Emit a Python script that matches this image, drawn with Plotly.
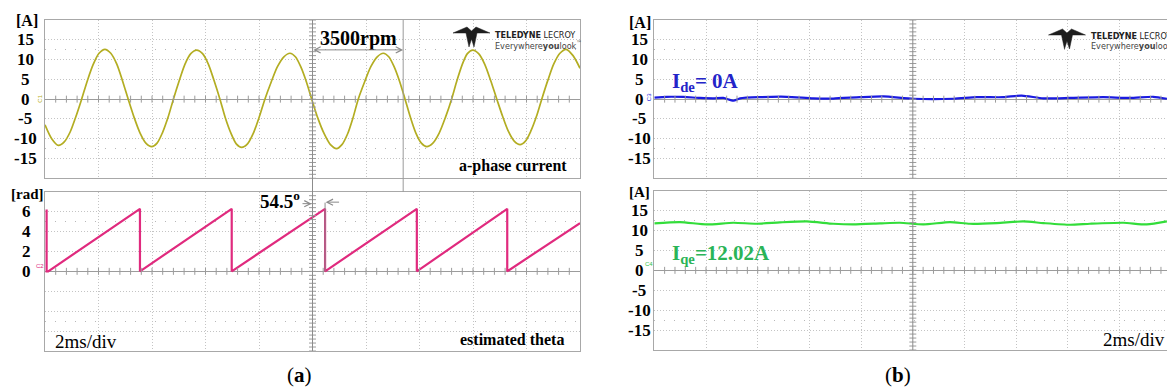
import numpy as np
import plotly.graph_objects as go

# ---------------- data (time in ms, 2 ms/div, 10 divisions) ----------------
# (a) a-phase current [A]
T_IA = [0.00, 0.25, 0.50, 0.72, 0.94, 1.15, 1.37, 1.59, 1.81, 2.02, 2.24,
        2.46, 2.68, 2.89, 3.11, 3.33, 3.55, 3.77, 3.99, 4.19, 4.39, 4.60,
        4.80, 5.02, 5.23, 5.45, 5.67, 5.89, 6.11, 6.32, 6.54, 6.74, 6.95,
        7.15, 7.35, 7.57, 7.79, 8.00, 8.22, 8.46, 8.69, 8.93, 9.16, 9.36,
        9.56, 9.77, 9.97, 10.20, 10.44, 10.67, 10.90, 11.10, 11.31, 11.51,
        11.71, 11.95, 12.18, 12.42, 12.65, 12.85, 13.05, 13.26, 13.46, 13.66,
        13.86, 14.07, 14.27, 14.50, 14.74, 14.97, 15.20, 15.40, 15.60, 15.79,
        15.99, 16.21, 16.44, 16.66, 16.89, 17.11, 17.32, 17.54, 17.76, 17.96,
        18.16, 18.37, 18.57, 18.80, 19.02, 19.25, 19.48, 19.74, 20.00]
IA = [-6.5, -10.0, -11.7, -10.8, -8.3, -4.5, 0.0, 4.8, 8.9, 11.6, 12.6,
      11.6, 8.9, 4.8, 0.0, -4.6, -8.5, -11.1, -12.0, -11.1, -8.5, -4.6,
      0.0, 4.7, 8.8, 11.5, 12.4, 11.5, 8.8, 4.7, 0.0, -4.7, -8.6,
      -11.3, -12.2, -11.3, -8.6, -4.7, 0.0, 4.4, 8.2, 10.7, 11.6, 10.7,
      8.2, 4.4, 0.0, -4.8, -8.8, -11.5, -12.5, -11.5, -8.8, -4.8,
      0.0, 4.4, 8.2, 10.7, 11.6, 10.7, 8.2, 4.4, 0.0, -4.6,
      -8.5, -11.1, -12.0, -11.1, -8.5, -4.6, 0.0, 4.7, 8.8, 11.5,
      12.4, 11.5, 8.8, 4.7, 0.0, -4.4, -8.1, -10.6, -11.5, -10.6,
      -8.1, -4.4, 0.0, 4.8, 8.9, 11.6, 12.6, 11.0, 7.8]

# (a) estimated theta [rad]
T_TH = [0.06, 0.06, 0.12, 3.55, 3.55, 6.98, 6.98, 10.47, 10.47, 13.90, 13.90,
        17.28, 17.28, 20.00]
THETA = [6.20, 0.00, 0.00, 6.28, 0.00, 6.28, 0.00, 6.28, 0.00, 6.28, 0.00,
         6.28, 0.00, 4.85]

# (b) d-axis current [A]
T_ID = [0.00, 0.48, 1.12, 1.77, 2.28, 2.67, 3.06, 3.32, 4.09, 5.12, 6.15, 6.92,
        7.96, 8.86, 10.02, 11.57, 12.47, 13.50, 14.21, 15.05, 16.08, 17.37,
        18.40, 19.30, 19.83]
ID = [0.4, 0.6, 0.55, 0.3, 0.2, 0.3, -0.4, 0.2, 0.5, 0.6, 0.2, 0.15,
      0.5, 0.7, 0.1, 0.1, 0.5, 0.5, 0.9, 0.2, 0.3, 0.5,
      0.3, 0.6, 0.1]

# (b) q-axis current [A]
T_IQ = [0.00, 0.99, 2.03, 3.06, 3.96, 4.86, 5.90, 6.92, 7.70, 8.73, 9.50,
        10.41, 11.44, 12.21, 13.25, 14.27, 15.05, 16.08, 16.85, 18.14, 19.05,
        19.83]
IQ = [11.78, 12.12, 11.53, 11.95, 11.70, 12.04, 12.29, 11.70, 11.53, 11.78,
      11.95, 11.53, 12.12, 11.70, 11.87, 12.29, 11.87, 11.45, 11.70, 11.95,
      11.53, 12.29]

YTICKS_A = [15, 10, 5, 0, -5, -10, -15]
YTICKS_RAD = [6, 4, 2, 0]

# ---------------- style ----------------
W, H = 1167, 390
SERIF = "Liberation Serif, Times New Roman, serif"
SANS = "Liberation Sans, Arial, sans-serif"
NARROW = "Liberation Sans Narrow, DejaVu Sans Condensed, Liberation Sans, sans-serif"
GRID = "#c4c4c4"
FRAME = "#a8a8a8"
CENTER = "#9c9c9c"
C_IA = "#b3ad22"
C_TH = "#e02a7e"
C_ID = "#1a1ae0"
C_IQ = "#33dd3a"


def px(xp):
    return xp / W


def py(yp):
    return 1 - yp / H


XA = [px(45), px(580)]
XB = [px(654.3), 1.0]
B_RANGE = [0, (W - 654.3) / 25.85]

fig = go.Figure()

fig.add_trace(go.Scatter(x=T_IA, y=IA, mode="lines", xaxis="x", yaxis="y",
                         line=dict(color=C_IA, width=1.7, shape="spline", smoothing=0.8)))
fig.add_trace(go.Scatter(x=T_TH, y=THETA, mode="lines", xaxis="x2", yaxis="y2",
                         line=dict(color=C_TH, width=2.2)))
fig.add_trace(go.Scatter(x=T_ID, y=ID, mode="lines", xaxis="x3", yaxis="y3",
                         line=dict(color=C_ID, width=2.2, shape="spline", smoothing=0.6)))
fig.add_trace(go.Scatter(x=T_IQ, y=IQ, mode="lines", xaxis="x4", yaxis="y4",
                         line=dict(color=C_IQ, width=2.2, shape="spline", smoothing=0.6)))

# graticule ticks along the centre lines (1/5 division)
panels = [("x", "y", 20.0, 5.0), ("x2", "y2", 20.0, 2.0),
          ("x3", "y3", B_RANGE[1], 5.0), ("x4", "y4", B_RANGE[1], 5.0)]
for xa, ya, xmax, ydiv in panels:
    hx = np.arange(0.4, xmax, 0.4)
    fig.add_trace(go.Scatter(x=hx, y=np.zeros_like(hx), mode="markers", xaxis=xa, yaxis=ya,
                             marker=dict(symbol="line-ns", size=5,
                                         line=dict(color=CENTER, width=1)),
                             hoverinfo="skip"))
    vy = np.arange(-4 * ydiv, 4 * ydiv + 1e-9, ydiv / 5)
    fig.add_trace(go.Scatter(x=np.full_like(vy, 10.0), y=vy, mode="markers", xaxis=xa, yaxis=ya,
                             marker=dict(symbol="line-ew", size=5,
                                         line=dict(color=CENTER, width=1)),
                             hoverinfo="skip"))


def xaxis(domain, rng, anchor):
    return dict(domain=domain, range=rng, anchor=anchor, tickvals=[2, 4, 6, 8, 12, 14, 16, 18],
                showticklabels=False, ticks="", showgrid=True, gridcolor=GRID,
                griddash="1px,2px", gridwidth=1, zeroline=False, showline=True,
                mirror=True, linecolor=FRAME, linewidth=1, fixedrange=True)


def yaxis(domain, div, anchor, mirror=True):
    return dict(domain=domain, range=[-4 * div, 4 * div], anchor=anchor,
                tickvals=[-3 * div, -2 * div, -div, div, 2 * div, 3 * div],
                showticklabels=False, ticks="", showgrid=True, gridcolor=GRID,
                griddash="1px,2px", gridwidth=1, zeroline=True, zerolinecolor=CENTER,
                zerolinewidth=1, showline=True, mirror=mirror, linecolor=FRAME,
                linewidth=1, fixedrange=True,
                minor=dict(tickvals=[-2.5 * div, 2.5 * div], showgrid=True,
                           gridcolor="#b8b8b8", griddash="1px,9px", gridwidth=1))


YA_TOP = [py(178.3), py(20)]
YA_BOT = [py(351), py(191.7)]
YB_TOP = [py(178.3), py(20)]
YB_BOT = [py(350), py(190.7)]

fig.update_layout(
    width=W, height=H, margin=dict(l=0, r=0, t=0, b=0),
    paper_bgcolor="white", plot_bgcolor="white", showlegend=False,
    xaxis=xaxis(XA, [0, 20], "y"),
    yaxis=yaxis(YA_TOP, 5.0, "x"),
    xaxis2=xaxis(XA, [0, 20], "y2"),
    yaxis2=yaxis(YA_BOT, 2.0, "x2"),
    xaxis3=xaxis(XB, B_RANGE, "y3"),
    yaxis3=yaxis(YB_TOP, 5.0, "x3", mirror=False),
    xaxis4=xaxis(XB, B_RANGE, "y4"),
    yaxis4=yaxis(YB_BOT, 5.0, "x4", mirror=False),
)

shapes = []
# centre vertical lines / cursors
shapes.append(dict(type="line", xref="x", yref="paper", x0=10, x1=10,
                   y0=py(351), y1=py(20), line=dict(color="#8c8c8c", width=1)))
shapes.append(dict(type="line", xref="x", yref="paper", x0=13.39, x1=13.39,
                   y0=py(192), y1=py(20), line=dict(color="#9a9a9a", width=1)))
shapes.append(dict(type="line", xref="x2", yref="y2", x0=10.47, x1=10.47,
                   y0=0, y1=6.9, line=dict(color="#8c8c8c", width=1)))
for xa, ya in [("x3", "y3"), ("x4", "y4")]:
    shapes.append(dict(type="line", xref=xa, yref=ya + " domain", x0=10, x1=10,
                       y0=0, y1=1, line=dict(color="#8c8c8c", width=1)))


# Teledyne LeCroy emblem
def emblem(x0, y0, s=1.0):
    pts = [(0, 6), (14, 0), (18.5, 4), (23, 0), (37, 6), (24, 6), (21, 20),
           (18.5, 12), (16, 20), (13, 6)]
    path = "M " + " L ".join(f"{px(x0 + s * a):.5f},{py(y0 + s * b):.5f}" for a, b in pts) + " Z"
    return dict(type="path", xref="paper", yref="paper", path=path,
                fillcolor="#1e1e1e", line=dict(color="#1e1e1e", width=0.5))


shapes.append(emblem(453, 27))
shapes.append(emblem(1048.5, 29))
fig.update_layout(shapes=shapes)

ann = []


def text(x, y, s, size, color="black", xref="paper", yref="paper", xanchor="center",
         family=SERIF, weight="bold", yanchor="middle", angle=0):
    ann.append(dict(x=x, y=y, xref=xref, yref=yref, text=s, showarrow=False,
                    xanchor=xanchor, yanchor=yanchor, textangle=angle,
                    font=dict(family=family, size=size, color=color, weight=weight)))


# axis labels
for v in YTICKS_A:
    text(px(25), v, str(v), 17, yref="y")
    text(px(639), v, str(v), 17, yref="y3")
    text(px(639), v, str(v), 17, yref="y4")
for v in YTICKS_RAD:
    text(px(26), v, str(v), 17, yref="y2")
text(px(26.5), 19.8, "[A]", 16, yref="y")
text(px(27.5), 7.8, "[rad]", 15, yref="y2")
text(px(639.5), 19.4, "[A]", 16, yref="y3")
text(px(639.5), 19.7, "[A]", 15, yref="y4")

# channel markers
text(px(40.5), 0, "C1", 6, C_IA, yref="y", weight="normal", family=SANS, angle=-90)
text(px(40), 0.5, "C2", 6, C_TH, yref="y2", weight="normal", family=SANS)
text(px(649), 0.5, "C3", 6, C_ID, yref="y3", weight="normal", family=SANS, angle=-90)
text(px(649), 1.5, "C4", 6, "#2fbf4a", yref="y4", weight="normal", family=SANS)

# annotations inside the screens
text(px(358), py(39), "3500rpm", 20)
text(px(513), py(166), "a-phase current", 16)
text(px(512), py(339.5), "estimated theta", 16)
text(px(86), py(341), "2ms/div", 19, weight="normal")
text(px(1134), py(339.5), "2ms/div", 19, weight="normal")
text(px(280), py(200), "54.5<sup>o</sup>", 19)
text(px(670), py(82), "I<sub>de</sub>= 0A", 21, "#2424c8", xanchor="left")
text(px(670), py(254), "I<sub>qe</sub>=12.02A", 21, "#2bb457", xanchor="left")
text(px(299), py(375), "(<b>a</b>)", 21, weight="normal")
text(px(898), py(375), "(<b>b</b>)", 21, weight="normal")

# logo text
text(px(493), py(35), "<b>TELEDYNE</b> LECROY", 9, "#222222", xanchor="left",
     family=NARROW, weight="normal")
text(px(493), py(44.5), "Everywhere<b>you</b>look<sup>™</sup>", 9, "#444444",
     xanchor="left", family=NARROW, weight="normal")
text(px(1088.5), py(36), "<b>TELEDYNE</b> LECROY", 9, "#222222", xanchor="left",
     family=NARROW, weight="normal")
text(px(1088.5), py(45), "Everywhere<b>you</b>look<sup>™</sup>", 9, "#444444",
     xanchor="left", family=NARROW, weight="normal")

# measurement arrows
ann.append(dict(x=13.39, y=12.45, ax=9.97, ay=12.45, xref="x", yref="y", axref="x",
                ayref="y", showarrow=True, arrowside="end+start", arrowhead=5,
                arrowsize=1.2, arrowwidth=1, arrowcolor="#8a8a8a", text=""))
ann.append(dict(x=9.97, y=6.8, ax=9.57, ay=6.8, xref="x2", yref="y2", axref="x2",
                ayref="y2", showarrow=True, arrowhead=5, arrowsize=1.2, arrowwidth=1,
                arrowcolor="#8a8a8a", text=""))
ann.append(dict(x=10.49, y=6.95, ax=11.05, ay=6.95, xref="x2", yref="y2", axref="x2",
                ayref="y2", showarrow=True, arrowhead=5, arrowsize=1.2, arrowwidth=1,
                arrowcolor="#8a8a8a", text=""))

fig.update_layout(annotations=ann)

# trigger / position indicators
fig.add_trace(go.Scatter(x=[20.15], y=[0], mode="markers", xaxis="x", yaxis="y",
                         cliponaxis=False, hoverinfo="skip",
                         marker=dict(symbol="triangle-left", size=6, color=C_IA)))
fig.add_trace(go.Scatter(x=[10], y=[-20.8], mode="markers", xaxis="x", yaxis="y",
                         cliponaxis=False, hoverinfo="skip",
                         marker=dict(symbol="circle", size=3, color="#d8a020")))
fig.add_trace(go.Scatter(x=[10], y=[-8.2], mode="markers", xaxis="x2", yaxis="y2",
                         cliponaxis=False, hoverinfo="skip",
                         marker=dict(symbol="circle", size=3, color=C_TH)))
fig.add_trace(go.Scatter(x=[10], y=[-20.6], mode="markers", xaxis="x3", yaxis="y3",
                         cliponaxis=False, hoverinfo="skip",
                         marker=dict(symbol="triangle-up", size=4, color=C_ID)))
fig.add_trace(go.Scatter(x=[10], y=[-20.4], mode="markers", xaxis="x4", yaxis="y4",
                         cliponaxis=False, hoverinfo="skip",
                         marker=dict(symbol="triangle-up", size=4, color=C_IQ)))

fig.write_html("out.html")
